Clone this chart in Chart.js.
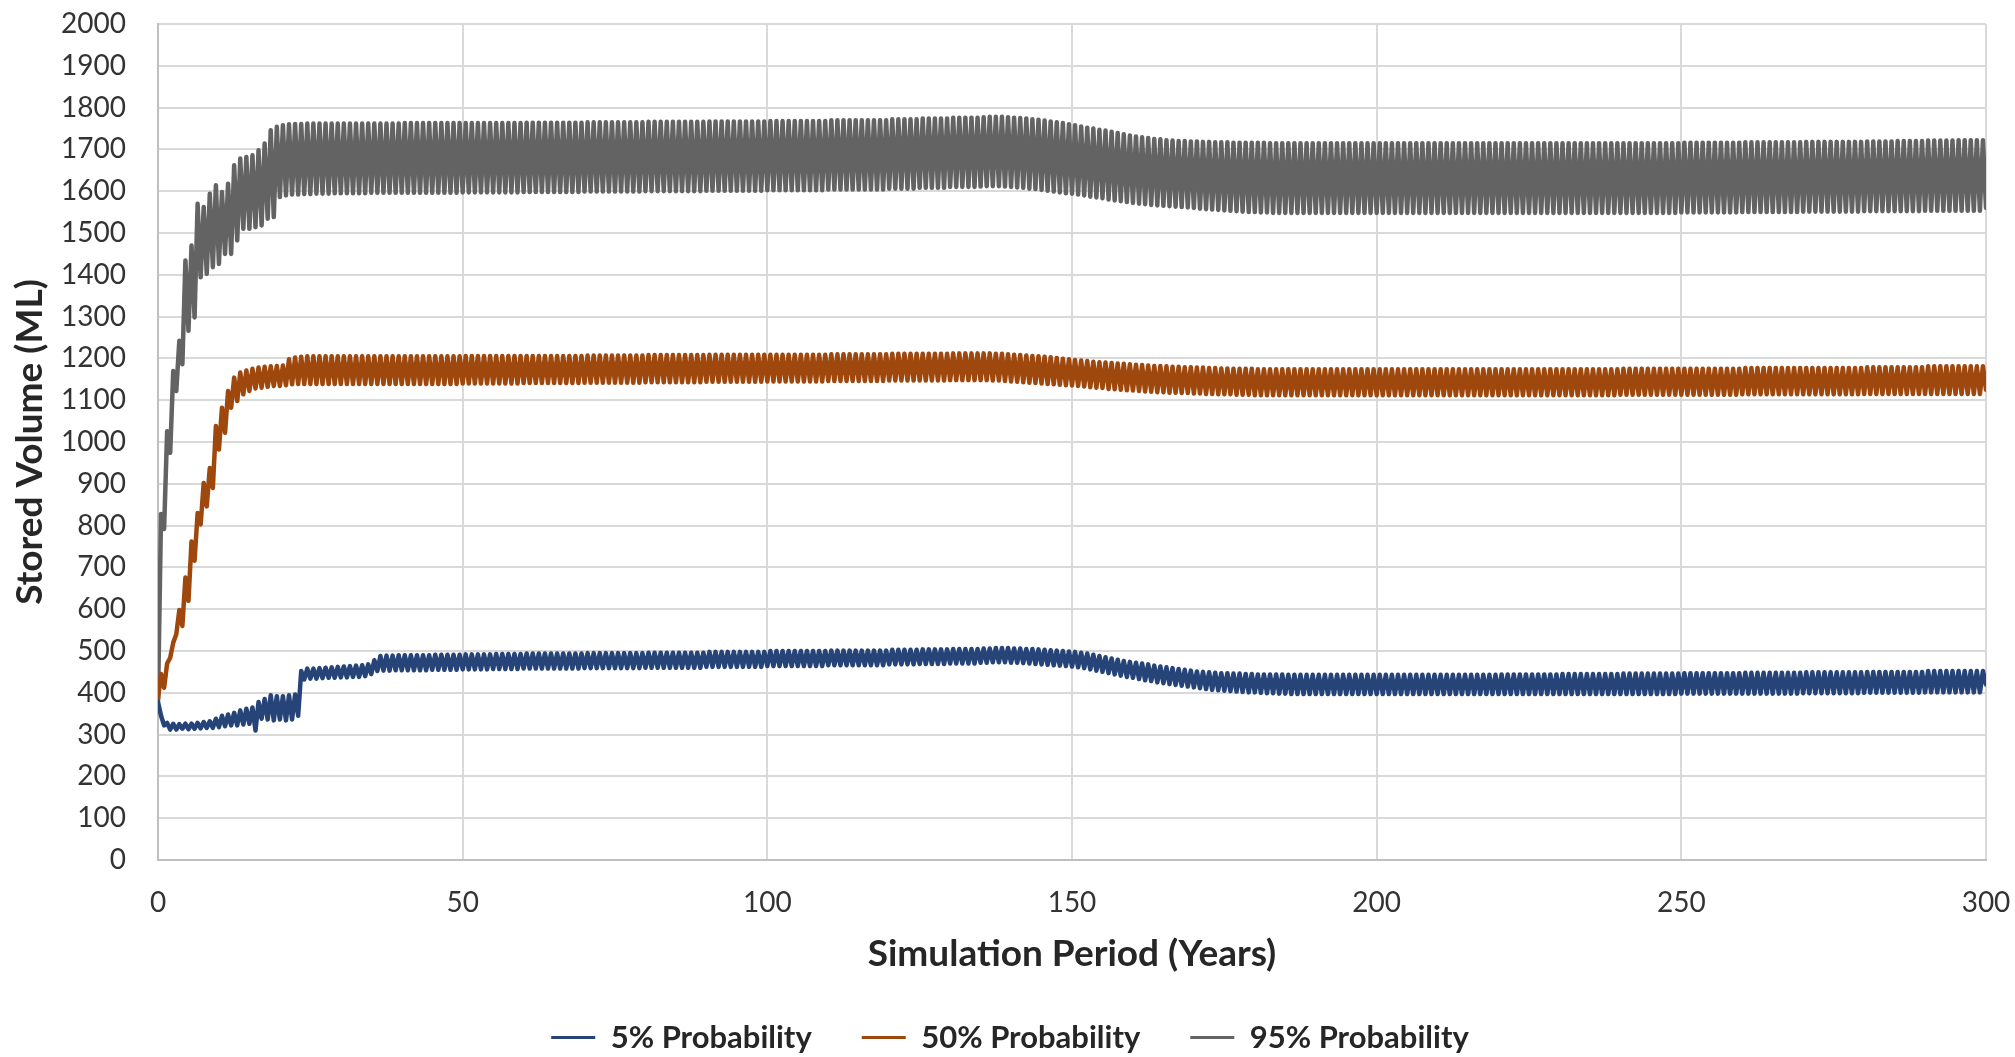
<!DOCTYPE html>
<html>
<head>
<meta charset="utf-8">
<title>Stored Volume</title>
<script src="https://cdn.jsdelivr.net/npm/chart.js@4.4.1/dist/chart.umd.min.js"></script>
<style>
  html, body { margin: 0; padding: 0; background: #fff; }
  canvas { display: block; }
</style>
</head>
<body>
<canvas id="storageChart" width="2015" height="1057"></canvas>
<script>
// Each simulated year: low at the start of the year (x = k), peak half-way through (x = k + 0.5)
const seriesLabels = ["5% Probability", "50% Probability", "95% Probability"];
const seriesColors = ["#264478", "#9E480E", "#636363"];
const xTicks = [0, 50, 100, 150, 200, 250, 300];
const yMax = 2000;

// 5% probability
const lows5 = [
  378, 322, 312, 312, 314, 313, 314, 315, 316, 316, 318, 320, 322, 322, 324, 326, 310, 338, 336, 334,
  336, 334, 336, 345, 432, 434, 434, 435, 436, 436, 437, 437, 438, 438, 440, 445, 452, 453, 453, 454,
  454, 454, 454, 454, 454, 455, 455, 455, 455, 455, 456, 456, 456, 456, 456, 457, 457, 457, 457, 457,
  458, 458, 458, 458, 458, 458, 458, 458, 458, 458, 459, 459, 459, 459, 459, 459, 459, 459, 459, 459,
  460, 460, 460, 460, 460, 460, 460, 460, 460, 460, 462, 462, 462, 462, 462, 462, 462, 462, 462, 462,
  464, 464, 464, 464, 464, 464, 464, 464, 464, 464, 466, 466, 466, 466, 466, 466, 466, 466, 466, 466,
  468, 468, 468, 468, 468, 469, 469, 469, 469, 469, 470, 470, 470, 470, 470, 472, 472, 473, 473, 473,
  472, 472, 471, 470, 469, 468, 467, 466, 465, 464, 463, 461, 459, 456, 453, 450, 447, 444, 441, 438,
  436, 433, 430, 428, 425, 423, 421, 419, 417, 415, 413, 411, 409, 407, 406, 405, 404, 403, 402, 401,
  401, 400, 399, 399, 398, 398, 397, 397, 397, 397, 397, 397, 397, 397, 397, 397, 397, 397, 397, 397,
  397, 397, 397, 397, 397, 397, 397, 397, 397, 397, 397, 397, 397, 397, 397, 397, 397, 397, 397, 397,
  397, 397, 397, 397, 397, 397, 397, 397, 397, 397, 397, 397, 397, 397, 397, 397, 397, 397, 397, 397,
  397, 397, 397, 397, 397, 397, 397, 397, 397, 397, 398, 398, 398, 398, 398, 398, 398, 398, 398, 398,
  398, 398, 398, 398, 398, 398, 398, 398, 398, 398, 399, 399, 399, 399, 399, 399, 399, 399, 399, 399,
  400, 400, 400, 400, 400, 400, 400, 400, 400, 400, 401, 401, 401, 401, 401, 401, 401, 401, 401, 401,
  420
];
const highs5 = [
  345, 328, 326, 325, 326, 326, 328, 330, 332, 338, 345, 348, 352, 358, 362, 365, 378, 385, 394, 392,
  392, 394, 396, 452, 458, 458, 459, 460, 461, 462, 463, 464, 465, 466, 468, 478, 488, 489, 489, 490,
  490, 490, 490, 490, 490, 491, 491, 491, 491, 491, 492, 492, 492, 492, 492, 493, 493, 493, 493, 493,
  494, 494, 494, 494, 494, 494, 494, 494, 494, 494, 495, 495, 495, 495, 495, 495, 495, 495, 495, 495,
  496, 496, 496, 496, 496, 496, 496, 496, 496, 496, 498, 498, 498, 498, 498, 498, 498, 498, 498, 498,
  500, 500, 500, 500, 500, 500, 500, 500, 500, 500, 501, 501, 501, 501, 501, 501, 501, 501, 501, 501,
  503, 503, 503, 503, 503, 504, 504, 504, 504, 504, 505, 505, 505, 505, 505, 506, 506, 507, 507, 507,
  506, 506, 505, 505, 504, 503, 502, 501, 500, 499, 498, 496, 494, 491, 488, 485, 482, 479, 476, 474,
  472, 470, 468, 465, 463, 461, 459, 457, 455, 453, 451, 450, 449, 448, 447, 447, 446, 446, 445, 445,
  444, 444, 444, 444, 444, 443, 443, 443, 443, 443, 443, 443, 443, 443, 443, 443, 443, 443, 443, 443,
  443, 443, 443, 443, 443, 443, 443, 443, 443, 443, 443, 443, 443, 443, 443, 443, 443, 443, 443, 443,
  444, 444, 444, 444, 444, 444, 444, 444, 444, 444, 445, 445, 445, 445, 445, 445, 445, 445, 445, 445,
  446, 446, 446, 446, 446, 446, 446, 446, 446, 446, 447, 447, 447, 447, 447, 447, 447, 447, 447, 447,
  448, 448, 448, 448, 448, 448, 448, 448, 448, 448, 449, 449, 449, 449, 449, 449, 449, 449, 449, 449,
  450, 450, 450, 450, 450, 450, 450, 450, 450, 450, 452, 452, 452, 452, 452, 452, 452, 452, 452, 452
];

// 50% probability
const lows50 = [
  385, 412, 484, 540, 560, 620, 716, 803, 846, 890, 982, 1022, 1082, 1098, 1114, 1122, 1128, 1130, 1132, 1134,
  1134, 1136, 1138, 1139, 1139, 1139, 1139, 1139, 1139, 1139, 1139, 1139, 1139, 1139, 1139, 1139, 1139, 1139, 1139, 1139,
  1139, 1139, 1139, 1139, 1139, 1139, 1139, 1139, 1139, 1139, 1140, 1140, 1140, 1140, 1140, 1140, 1140, 1140, 1140, 1140,
  1141, 1141, 1141, 1141, 1141, 1141, 1141, 1141, 1141, 1141, 1142, 1142, 1142, 1142, 1142, 1142, 1142, 1142, 1142, 1142,
  1143, 1143, 1143, 1143, 1143, 1143, 1143, 1143, 1143, 1143, 1144, 1144, 1144, 1144, 1144, 1144, 1144, 1144, 1144, 1144,
  1145, 1145, 1145, 1145, 1145, 1145, 1145, 1145, 1145, 1145, 1146, 1146, 1146, 1146, 1146, 1146, 1146, 1146, 1146, 1146,
  1147, 1147, 1147, 1147, 1147, 1147, 1147, 1147, 1147, 1147, 1148, 1148, 1148, 1148, 1148, 1148, 1148, 1147, 1147, 1146,
  1145, 1144, 1143, 1142, 1141, 1140, 1139, 1138, 1137, 1136, 1135, 1134, 1133, 1131, 1130, 1129, 1127, 1126, 1125, 1124,
  1123, 1122, 1121, 1120, 1119, 1119, 1118, 1118, 1117, 1117, 1116, 1116, 1115, 1115, 1114, 1114, 1114, 1113, 1113, 1113,
  1112, 1112, 1112, 1112, 1112, 1112, 1112, 1112, 1112, 1112, 1112, 1112, 1112, 1112, 1112, 1112, 1112, 1112, 1112, 1112,
  1112, 1112, 1112, 1112, 1112, 1112, 1112, 1112, 1112, 1112, 1112, 1112, 1112, 1112, 1112, 1112, 1112, 1112, 1112, 1112,
  1112, 1112, 1112, 1112, 1112, 1112, 1112, 1112, 1112, 1112, 1112, 1112, 1112, 1112, 1112, 1112, 1112, 1112, 1112, 1112,
  1113, 1113, 1113, 1113, 1113, 1113, 1113, 1113, 1113, 1113, 1113, 1113, 1113, 1113, 1113, 1113, 1113, 1113, 1113, 1113,
  1114, 1114, 1114, 1114, 1114, 1114, 1114, 1114, 1114, 1114, 1114, 1114, 1114, 1114, 1114, 1114, 1114, 1114, 1114, 1114,
  1115, 1115, 1115, 1115, 1115, 1115, 1115, 1115, 1115, 1115, 1115, 1115, 1115, 1115, 1115, 1115, 1115, 1115, 1115, 1115,
  1125
];
const highs50 = [
  445, 470, 520, 598, 676, 762, 830, 902, 938, 1038, 1082, 1122, 1154, 1166, 1171, 1175, 1178, 1180, 1181, 1182,
  1183, 1198, 1202, 1204, 1205, 1205, 1205, 1205, 1205, 1205, 1205, 1205, 1205, 1205, 1205, 1205, 1205, 1205, 1205, 1205,
  1205, 1205, 1205, 1205, 1205, 1205, 1205, 1205, 1205, 1205, 1206, 1206, 1206, 1206, 1206, 1206, 1206, 1206, 1206, 1206,
  1206, 1206, 1206, 1206, 1206, 1206, 1206, 1206, 1206, 1206, 1207, 1207, 1207, 1207, 1207, 1207, 1207, 1207, 1207, 1207,
  1208, 1208, 1208, 1208, 1208, 1208, 1208, 1208, 1208, 1208, 1209, 1209, 1209, 1209, 1209, 1209, 1209, 1209, 1209, 1209,
  1209, 1209, 1209, 1209, 1209, 1209, 1209, 1209, 1209, 1209, 1210, 1210, 1210, 1210, 1210, 1210, 1210, 1210, 1210, 1210,
  1211, 1211, 1211, 1211, 1211, 1211, 1211, 1211, 1211, 1211, 1212, 1212, 1212, 1212, 1212, 1212, 1212, 1211, 1211, 1210,
  1209, 1208, 1207, 1206, 1205, 1204, 1203, 1201, 1199, 1198, 1196, 1195, 1194, 1192, 1191, 1190, 1189, 1188, 1187, 1186,
  1185, 1184, 1183, 1182, 1182, 1181, 1180, 1180, 1179, 1179, 1178, 1178, 1177, 1177, 1176, 1176, 1175, 1175, 1175, 1175,
  1174, 1174, 1174, 1174, 1174, 1174, 1174, 1174, 1174, 1174, 1174, 1174, 1174, 1174, 1174, 1174, 1174, 1174, 1174, 1174,
  1174, 1174, 1174, 1174, 1174, 1174, 1174, 1174, 1174, 1174, 1174, 1174, 1174, 1174, 1174, 1174, 1174, 1174, 1174, 1174,
  1174, 1174, 1174, 1174, 1174, 1174, 1174, 1174, 1174, 1174, 1174, 1174, 1174, 1174, 1174, 1174, 1174, 1174, 1174, 1174,
  1175, 1175, 1175, 1175, 1175, 1175, 1175, 1175, 1175, 1175, 1175, 1175, 1175, 1175, 1175, 1175, 1175, 1175, 1175, 1175,
  1177, 1177, 1177, 1177, 1177, 1177, 1177, 1177, 1177, 1177, 1177, 1177, 1177, 1177, 1177, 1177, 1177, 1177, 1177, 1177,
  1179, 1179, 1179, 1179, 1179, 1179, 1179, 1179, 1179, 1179, 1181, 1181, 1181, 1181, 1181, 1181, 1181, 1181, 1181, 1181
];

// 95% probability
const lows95 = [
  380, 792, 974, 1122, 1186, 1266, 1298, 1394, 1402, 1418, 1426, 1450, 1450, 1482, 1510, 1510, 1514, 1518, 1534, 1538,
  1586, 1590, 1592, 1592, 1593, 1593, 1594, 1594, 1594, 1595, 1595, 1595, 1595, 1595, 1595, 1596, 1596, 1596, 1596, 1596,
  1596, 1596, 1596, 1596, 1596, 1596, 1596, 1596, 1596, 1596, 1597, 1597, 1597, 1597, 1597, 1597, 1597, 1597, 1597, 1597,
  1598, 1598, 1598, 1598, 1598, 1598, 1598, 1598, 1598, 1598, 1599, 1599, 1599, 1599, 1599, 1599, 1599, 1599, 1599, 1599,
  1600, 1600, 1600, 1600, 1600, 1600, 1600, 1600, 1600, 1600, 1601, 1601, 1601, 1601, 1601, 1601, 1601, 1601, 1601, 1601,
  1602, 1602, 1602, 1602, 1602, 1602, 1602, 1602, 1602, 1602, 1604, 1604, 1604, 1604, 1604, 1604, 1604, 1604, 1604, 1604,
  1606, 1606, 1606, 1606, 1606, 1608, 1608, 1608, 1608, 1608, 1610, 1610, 1610, 1610, 1610, 1611, 1612, 1612, 1612, 1611,
  1610, 1609, 1608, 1606, 1605, 1603, 1601, 1599, 1597, 1595, 1594, 1592, 1590, 1587, 1585, 1583, 1580, 1578, 1576, 1574,
  1572, 1570, 1569, 1567, 1566, 1565, 1564, 1563, 1562, 1561, 1560, 1558, 1557, 1556, 1555, 1554, 1553, 1552, 1551, 1550,
  1550, 1549, 1549, 1548, 1548, 1548, 1548, 1548, 1548, 1548, 1548, 1548, 1548, 1548, 1548, 1548, 1548, 1548, 1548, 1548,
  1548, 1548, 1548, 1548, 1548, 1548, 1548, 1548, 1548, 1548, 1548, 1548, 1548, 1548, 1548, 1548, 1548, 1548, 1548, 1548,
  1548, 1548, 1548, 1548, 1548, 1548, 1548, 1548, 1548, 1548, 1548, 1548, 1548, 1548, 1548, 1548, 1548, 1548, 1548, 1548,
  1548, 1548, 1548, 1548, 1548, 1548, 1548, 1548, 1548, 1548, 1549, 1549, 1549, 1549, 1549, 1549, 1549, 1549, 1549, 1549,
  1550, 1550, 1550, 1550, 1550, 1550, 1550, 1550, 1550, 1550, 1551, 1551, 1551, 1551, 1551, 1551, 1551, 1551, 1551, 1551,
  1552, 1552, 1552, 1552, 1552, 1552, 1552, 1552, 1552, 1552, 1553, 1553, 1553, 1553, 1553, 1553, 1553, 1553, 1553, 1553,
  1560
];
const highs95 = [
  828, 1026, 1170, 1242, 1434, 1470, 1570, 1562, 1594, 1614, 1598, 1618, 1662, 1678, 1682, 1686, 1698, 1714, 1746, 1754,
  1758, 1760, 1761, 1761, 1762, 1762, 1762, 1762, 1762, 1762, 1762, 1762, 1762, 1762, 1762, 1762, 1762, 1762, 1762, 1762,
  1763, 1763, 1763, 1763, 1763, 1763, 1763, 1763, 1763, 1763, 1763, 1763, 1763, 1763, 1763, 1763, 1763, 1763, 1763, 1763,
  1764, 1764, 1764, 1764, 1764, 1764, 1764, 1764, 1764, 1764, 1765, 1765, 1765, 1765, 1765, 1765, 1765, 1765, 1765, 1765,
  1766, 1766, 1766, 1766, 1766, 1766, 1766, 1766, 1766, 1766, 1767, 1767, 1767, 1767, 1767, 1767, 1767, 1767, 1767, 1767,
  1768, 1768, 1768, 1768, 1768, 1768, 1768, 1768, 1768, 1768, 1770, 1770, 1770, 1770, 1770, 1770, 1770, 1770, 1770, 1770,
  1772, 1772, 1772, 1772, 1772, 1774, 1774, 1774, 1774, 1774, 1776, 1776, 1776, 1776, 1776, 1777, 1778, 1778, 1778, 1777,
  1776, 1775, 1774, 1772, 1771, 1769, 1767, 1765, 1763, 1760, 1758, 1755, 1752, 1750, 1747, 1745, 1742, 1739, 1736, 1733,
  1731, 1729, 1727, 1725, 1724, 1722, 1721, 1720, 1720, 1719, 1719, 1718, 1718, 1717, 1717, 1717, 1716, 1716, 1716, 1716,
  1716, 1716, 1715, 1715, 1715, 1715, 1715, 1715, 1715, 1715, 1715, 1715, 1715, 1715, 1715, 1715, 1715, 1715, 1715, 1715,
  1715, 1715, 1715, 1715, 1715, 1715, 1715, 1715, 1715, 1715, 1715, 1715, 1715, 1715, 1715, 1715, 1715, 1715, 1715, 1715,
  1715, 1715, 1715, 1715, 1715, 1715, 1715, 1715, 1715, 1715, 1715, 1715, 1715, 1715, 1715, 1715, 1715, 1715, 1715, 1715,
  1715, 1715, 1715, 1715, 1715, 1715, 1715, 1715, 1715, 1715, 1716, 1716, 1716, 1716, 1716, 1716, 1716, 1716, 1716, 1716,
  1717, 1717, 1717, 1717, 1717, 1717, 1717, 1717, 1717, 1717, 1718, 1718, 1718, 1718, 1718, 1718, 1718, 1718, 1718, 1718,
  1719, 1719, 1719, 1719, 1719, 1720, 1720, 1720, 1720, 1720, 1721, 1721, 1721, 1721, 1721, 1722, 1722, 1722, 1722, 1722
];

// lows sit on whole years, peaks half a year later
function yearlyPoints(lows, highs) {
  const pts = [];
  highs.forEach((h, k) => {
    pts.push({ x: k, y: lows[k] });
    pts.push({ x: k + 0.5, y: h });
  });
  pts.push({ x: highs.length, y: lows[highs.length] });
  return pts;
}

const seriesData = [
  yearlyPoints(lows5, highs5),
  yearlyPoints(lows50, highs50),
  yearlyPoints(lows95, highs95),
];

// nudge the legend row a little to the right of the canvas centre
const legendOffset = {
  id: "legendOffset",
  afterLayout(chart) {
    chart.legend.left += 17;
    chart.legend.right += 17;
  },
};

Chart.defaults.font.family = "Lato, 'Open Sans', sans-serif";

const ctx = document.getElementById("storageChart").getContext("2d");

new Chart(ctx, {
  type: "line",
  data: {
    datasets: seriesLabels.map((label, i) => ({
      label,
      data: seriesData[i],
      borderColor: seriesColors[i],
      backgroundColor: seriesColors[i],
      borderWidth: 4.5,
      borderJoinStyle: "round",
      borderCapStyle: "round",
      pointRadius: 0,
      tension: 0,
      fill: false,
    })),
  },
  options: {
    responsive: false,
    animation: false,
    devicePixelRatio: 1,
    layout: {
      padding: { top: 24, right: 29, bottom: -6, left: 0 },
    },
    scales: {
      x: {
        type: "linear",
        min: xTicks[0],
        max: xTicks[xTicks.length - 1],
        afterBuildTicks: (scale) => {
          scale.ticks = xTicks.map((v) => ({ value: v }));
        },
        ticks: {
          padding: 26,
          maxRotation: 0,
          color: "#333333",
          font: { size: 28 },
        },
        grid: {
          color: "#d9d9d9",
          lineWidth: 2,
          drawTicks: false,
        },
        border: { color: "#bfbfbf", width: 2 },
        title: {
          display: true,
          text: "Simulation Period (Years)",
          color: "#262626",
          font: { size: 37, weight: "bold" },
          padding: { top: 0, bottom: -4 },
        },
        afterFit: (scale) => {
          scale.height = 112;
          scale.paddingLeft = 0;
          scale.paddingRight = 0;
        },
      },
      y: {
        min: 0,
        max: yMax,
        ticks: {
          stepSize: 100,
          padding: 32,
          color: "#333333",
          font: { size: 28 },
          callback: (value) => String(value),
        },
        grid: {
          color: "#d9d9d9",
          lineWidth: 2,
          drawTicks: false,
        },
        border: { color: "#bfbfbf", width: 2 },
        title: {
          display: true,
          text: "Stored Volume (ML)",
          color: "#262626",
          font: { size: 37, weight: "bold" },
          padding: { top: 8, bottom: 0 },
        },
        afterFit: (scale) => {
          scale.width = 158;
          scale.paddingTop = 0;
          scale.paddingBottom = 0;
        },
      },
    },
    plugins: {
      legend: {
        position: "bottom",
        labels: {
          boxWidth: 44,
          boxHeight: 3,
          padding: 50,
          color: "#262626",
          font: { size: 31, weight: "bold" },
          generateLabels: (chart) =>
            Chart.defaults.plugins.legend.labels
              .generateLabels(chart)
              .map((item) => ({ ...item, lineWidth: 0 })),
        },
      },
      tooltip: { enabled: false },
    },
  },
  plugins: [legendOffset],
});
</script>
</body>
</html>
